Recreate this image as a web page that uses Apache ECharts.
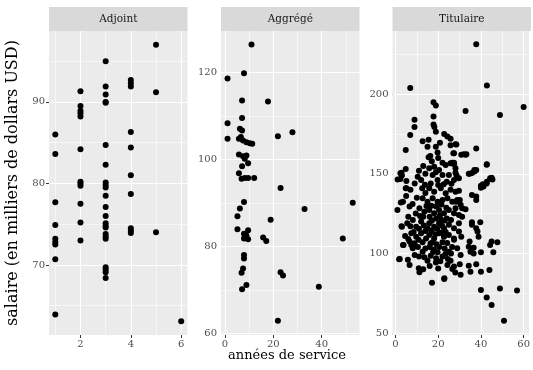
<!DOCTYPE html>
<html>
<head>
<meta charset="utf-8">
<script src="https://cdn.jsdelivr.net/npm/echarts@6/dist/echarts.min.js"></script>
<style>
  html, body { margin: 0; padding: 0; background: #fff; }
  #chart { width: 533px; height: 370px; }
</style>
</head>
<body>
<div id="chart"></div>
<script>
// facet names
const panels = ['Adjoint', 'Aggrégé', 'Titulaire'];

// [années de service, salaire en milliers USD]
const adjointPts = [
  [1, 86.0], [1, 83.6], [1, 77.7], [1, 74.9], [1, 73.2], [1, 72.8], [1, 72.5], [1, 70.7], [1, 63.9],
  [2, 91.3], [2, 89.5], [2, 88.9], [2, 88.6], [2, 88.2], [2, 84.2], [2, 80.2], [2, 80.0], [2, 79.7],
  [2, 77.5], [2, 75.2], [2, 73.0],
  [3, 95.0], [3, 91.9], [3, 90.9], [3, 90.0], [3, 89.9], [3, 84.7], [3, 82.3], [3, 80.1], [3, 79.8],
  [3, 79.5], [3, 78.5], [3, 77.1], [3, 76.0], [3, 75.1], [3, 74.8], [3, 74.6], [3, 73.8], [3, 73.5],
  [3, 73.2], [3, 69.7], [3, 69.4], [3, 69.1], [3, 68.4],
  [4, 92.7], [4, 92.3], [4, 91.9], [4, 86.3], [4, 84.4], [4, 81.0], [4, 78.7], [4, 74.5], [4, 74.2], [4, 73.9],
  [5, 97.0], [5, 91.2], [5, 74.0],
  [6, 63.1]
];

const aggregePts = [
  [11, 126.4], [7.9, 119.8], [1.1, 118.6], [7.1, 113.5], [17.8, 113.3], [7.1, 109.5], [1.1, 108.3],
  [6.2, 107.0], [7.1, 106.6], [1.1, 104.7], [5.8, 104.7], [6.6, 105.1], [7.5, 104.3], [8.9, 103.9],
  [10.3, 103.7], [11.3, 103.6], [21.9, 105.3], [27.9, 106.2],
  [5.8, 101.1], [7.5, 100.7], [8.9, 100.9], [8.2, 100.1], [9.6, 99.1], [7.1, 98.4],
  [5.8, 96.8], [6.9, 95.5], [8.2, 95.7], [9.6, 95.7], [12.1, 95.7], [23, 93.4],
  [7.9, 90.2], [52.8, 90.0], [6.2, 88.7], [32.9, 88.6], [5.2, 86.9], [18.9, 86.1],
  [5.2, 83.9], [7.9, 82.9], [8.9, 82.5], [9.6, 83.7], [7.9, 81.8], [9.6, 81.6], [15.8, 82.0], [17.1, 81.2],
  [48.7, 81.8], [7.9, 78.0], [7.9, 77.2], [7.5, 74.9], [6.9, 73.9], [23, 74.0], [24, 73.3],
  [8.9, 71.1], [7.1, 70.1], [38.8, 70.7], [21.9, 62.9]
];

const titulairePts = [
  [37.8, 231.5], [6.9, 204], [42.8, 205.5], [17.8, 195], [18.9, 193], [32.8, 189.5], [60, 192], [48.9, 187],
  [17.8, 186], [17.8, 181], [18.2, 179.5], [8.9, 184], [8.9, 179.5], [6.9, 174.5], [18.9, 176.5],
  [22.8, 175], [24.3, 173.5], [25.8, 172], [20.8, 169.5], [28.5, 168.5], [25.8, 168], [12.7, 170.5],
  [15.5, 171.5], [15, 167], [18.9, 167], [19.7, 163.5], [32, 162.3], [33.2, 162.3], [4.8, 165],
  [27.1, 163], [37.8, 166], [16.3, 161.3], [15.5, 160.5], [26.6, 157], [27.4, 156], [42.8, 156],
  [45.4, 146.5], [44.8, 147], [42.8, 145], [40.9, 143.5], [40, 142.5], [37.8, 152.5], [35.8, 150.5],
  [37, 151.5], [34.3, 150], [28.1, 150.7], [28.6, 149],
  [2.3, 150.4], [2.8, 150.7], [3, 149], [4.8, 153], [2.3, 146.8], [5.1, 145.5], [1, 146.5], [5.1, 141],
  [4.8, 141], [3.5, 132.5], [6.6, 129.4], [0.9, 127.3], [3, 116.8], [2.8, 117], [3.8, 105.3], [3.5, 105.3],
  [2, 96.5], [1.7, 96.3], [5.8, 96], [6.6, 92.7], [10.9, 90.7], [11.2, 88.2], [2.5, 132],
  [10.4, 148.2], [12, 146.2], [12.5, 141], [15.8, 153.5], [18.1, 154.5], [20.4, 152.5], [22, 149.3],
  [19.7, 146.2], [17.4, 149.3], [23.5, 155.6], [25.8, 156.7], [28.1, 153.5], [25, 149.3], [27.4, 146.2],
  [29.7, 147.2], [15.8, 141], [18.1, 138.8], [21.2, 141], [23.5, 137.8], [25.8, 140], [28.1, 138.8],
  [12.7, 134.7], [15, 132.5], [17.4, 134.7], [19.7, 132.5], [22, 133.6], [24.3, 134.7], [26.6, 132.5],
  [28.9, 133.6], [11.2, 128.4], [13.5, 126.2], [15.8, 127.3], [18.1, 125.2], [20.4, 127.3], [22.7, 125.2],
  [25, 127.3], [27.4, 125.2], [8.1, 121], [9.7, 116.8], [12, 120], [7.4, 112.6], [9.7, 110.5], [12, 112.6],
  [14.3, 109.4], [15.8, 119], [18.1, 116.8], [20.4, 119], [22.7, 115.8], [25, 118], [27.4, 115.8],
  [29.7, 119], [15.8, 111.6], [18.1, 109.4], [20.4, 112.6], [22.7, 110.5], [25, 111.6], [27.4, 109.4],
  [6.6, 107.4], [8.9, 106.4], [12.7, 107], [17.4, 107], [22, 107], [12.7, 101], [8.1, 103.2], [7.4, 105.3],
  [19.7, 100.7], [22, 98], [24.3, 92.7], [26.6, 90.2], [15, 95.3], [18.9, 94.2], [17.1, 81.6], [22.8, 83.9],
  [28.1, 168.6], [27.4, 163], [30.8, 162], [32.9, 162], [27.4, 157], [42.7, 155.8], [34.7, 150],
  [36.9, 152.5], [45, 147.6], [44.3, 147.2], [42.7, 144], [41.2, 142], [40, 141.3], [29.7, 139.3],
  [30.1, 133.6], [28.4, 132.5], [30.5, 130.5], [35.8, 136.7], [37.8, 135.7], [37.8, 133.6], [28.1, 128.4],
  [31.2, 128.4], [32.8, 127.7], [29.7, 124.2], [31.2, 123], [35.8, 119.6], [39.7, 119.6], [35.8, 118],
  [37.8, 115.8], [38.4, 113.7], [38.9, 110.5], [29.7, 113.7], [30.8, 110.5], [34.7, 107.4], [27.4, 108.5],
  [44.3, 105.3], [45, 107.4], [47.7, 107], [45.8, 100.7], [34.3, 104.2], [36.6, 103.6], [35.1, 101],
  [28.9, 103.2], [30.5, 99], [36.6, 100], [40, 100.7], [27.4, 91.7], [30.1, 93.2], [34.3, 92.3],
  [37.8, 93.2], [35.1, 88.5], [40, 88.5], [44, 89.6], [40, 77], [48.9, 78], [56.9, 76.6], [42.7, 72.2],
  [45, 67.6], [50.8, 57.7],
  [10, 135], [14, 138], [16.5, 144], [20, 143], [24, 145], [13, 123], [16, 123], [19, 122], [21.5, 121],
  [24, 122], [26, 121], [14, 114], [17, 114], [19.5, 115.5], [21, 113], [23.5, 113.5], [10.5, 104],
  [14, 103], [16, 104], [18, 102.5], [20.5, 104], [23, 103], [25, 101], [9, 99], [11, 98], [13.5, 97.5],
  [16.5, 98.5], [19, 97], [21, 95], [24.5, 96.5], [26, 100], [8, 131], [9.5, 125], [6, 123], [5.5, 119],
  [4.5, 111], [6, 109], [20, 160], [22, 157], [17, 158], [13, 155], [11, 152], [14, 150], [5, 136],
  [7, 140], [9, 144], [13, 90], [16, 92], [20, 90.5], [28, 88], [30.5, 86.5], [22.9, 84.4],
  [16.8, 130], [19, 129.5], [21.5, 130.8], [23.8, 128.7], [14.5, 129.8], [17, 120.5], [20.8, 123.8],
  [23, 120.6], [15.2, 115.5], [18.6, 111.8], [21.8, 117.3], [13.3, 117.5], [11, 115.5], [10.8, 108.5],
  [16.4, 106.2], [19.2, 105.8], [24.2, 106.5], [26.5, 104], [13.8, 143.2], [18.9, 151], [22.6, 143.5],
  [26.2, 143.8], [8.5, 113.5], [7, 117], [11.5, 123.5], [17.6, 100.8], [23.4, 99.6], [25.8, 95.4]
];

// tick values (major) and minor grid lines per facet
const adjXTicks = [2, 4, 6], adjXMinor = [1, 3, 5];
const adjYTicks = [70, 80, 90], adjYMinor = [65, 75, 85, 95];
const aggXTicks = [0, 20, 40], aggXMinor = [10, 30, 50];
const aggYTicks = [60, 80, 100, 120], aggYMinor = [70, 90, 110];
const titXTicks = [0, 20, 40, 60], titXMinor = [10, 30, 50];
const titYTicks = [50, 100, 150, 200], titYMinor = [75, 125, 175, 225];

const font = '"DejaVu Serif", serif';
const panelLeft = [49, 221, 392.5];
const panelW = 138.5, panelTop = 31, panelH = 304;

function gridLines(xMaj, xMin, yMaj, yMin) {
  const major = { color: '#fff', width: 1.1, type: 'solid' };
  const minor = { color: '#fff', width: 0.55, type: 'solid' };
  return []
    .concat(xMin.map(v => ({ xAxis: v, lineStyle: minor })))
    .concat(yMin.map(v => ({ yAxis: v, lineStyle: minor })))
    .concat(xMaj.map(v => ({ xAxis: v, lineStyle: major })))
    .concat(yMaj.map(v => ({ yAxis: v, lineStyle: major })));
}

function axis(i, min, max, ticks) {
  return {
    type: 'value', gridIndex: i, min: min, max: max,
    axisLine: { show: false },
    splitLine: { show: false },
    axisTick: { show: true, length: 3, customValues: ticks, lineStyle: { color: '#333', width: 1 } },
    axisLabel: { customValues: ticks, color: '#4D4D4D', fontSize: 10, fontFamily: font, margin: 4 }
  };
}

const yAxes = [
  axis(0, 61.4, 98.7, adjYTicks),
  axis(1, 59.6, 129.5, aggYTicks),
  axis(2, 48.7, 239.8, titYTicks)
];
yAxes[0].name = 'salaire (en milliers de dollars USD)';
yAxes[0].nameLocation = 'middle';
yAxes[0].nameGap = 28;
yAxes[0].nameTextStyle = { fontSize: 16, color: '#000', fontFamily: font };

const lineSets = [
  gridLines(adjXTicks, adjXMinor, adjYTicks, adjYMinor),
  gridLines(aggXTicks, aggXMinor, aggYTicks, aggYMinor),
  gridLines(titXTicks, titXMinor, titYTicks, titYMinor)
];
const pointSets = [adjointPts, aggregePts, titulairePts];

const series = [];
lineSets.forEach((d, i) => {
  series.push({
    type: 'scatter', xAxisIndex: i, yAxisIndex: i, data: [], z: 1, silent: true,
    markLine: { z: 1, silent: true, symbol: 'none', label: { show: false }, animation: false, data: d }
  });
});
pointSets.forEach((d, i) => {
  series.push({
    name: panels[i], type: 'scatter', xAxisIndex: i, yAxisIndex: i, z: 10,
    data: d, symbolSize: 6, itemStyle: { color: '#000', opacity: 1 }, silent: true
  });
});

const graphics = [];
panels.forEach((p, i) => {
  graphics.push({
    type: 'rect', shape: { x: panelLeft[i], y: 7, width: panelW, height: 24 },
    style: { fill: '#D9D9D9' }, silent: true
  });
  graphics.push({
    type: 'text', x: panelLeft[i] + panelW / 2, y: 19,
    style: { text: p, font: '10.5px ' + font, fill: '#1A1A1A', textAlign: 'center', textVerticalAlign: 'middle' },
    silent: true
  });
});
graphics.push({
  type: 'text', x: 287, y: 356,
  style: { text: 'années de service', font: '13px ' + font, fill: '#000', textAlign: 'center', textVerticalAlign: 'middle' },
  silent: true
});

const chart = echarts.init(document.getElementById('chart'), null, { renderer: 'canvas' });
chart.setOption({
  animation: false,
  backgroundColor: '#fff',
  grid: panelLeft.map(l => ({
    left: l, top: panelTop, width: panelW, height: panelH,
    show: true, backgroundColor: '#EBEBEB', borderWidth: 0
  })),
  xAxis: [
    axis(0, 0.75, 6.25, adjXTicks),
    axis(1, -1.6, 55.6, aggXTicks),
    axis(2, -1.4, 62.5, titXTicks)
  ],
  yAxis: yAxes,
  series: series,
  graphic: graphics
});
</script>
</body>
</html>
